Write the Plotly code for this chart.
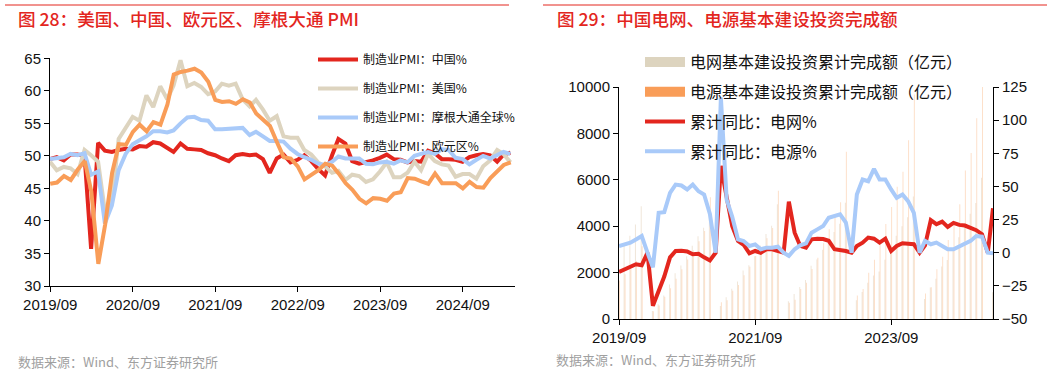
import pandas as pd
import plotly.graph_objects as go

# ---------------- Left panel: manufacturing PMI ----------------
pmi_dates = pd.date_range("2019-08-31", periods=68, freq=pd.offsets.MonthEnd())
ez_dates = pd.date_range("2019-09-01", periods=68, freq=pd.offsets.MonthBegin())

pmi_china = [49.5, 49.8, 49.3, 50.2, 50.2,
             50.0, 35.7, 52.0, 50.8, 50.6, 50.9, 51.1, 51.0, 51.5, 51.4, 52.1, 51.9,
             51.3, 50.6, 51.9, 51.1, 51.0, 50.9, 50.4, 50.1, 49.6, 49.2, 50.1, 50.3,
             50.1, 50.2, 49.5, 47.4, 49.6, 50.2, 49.0, 49.4, 50.1, 49.2, 48.0, 47.0,
             50.1, 52.6, 51.9, 49.2, 48.8, 49.0, 49.3, 49.7, 50.2, 49.5, 49.4, 49.0,
             49.2, 49.1, 50.8, 50.4, 49.5, 49.5, 49.4, 49.1, 49.8, 50.1, 50.3, 50.1,
             49.1, 50.2, 50.5]
pmi_us = [49.1, 47.8, 48.3, 48.1, 47.2,
          50.9, 50.1, 49.1, 41.5, 43.1, 52.6, 54.2, 56.0, 55.4, 59.3, 57.5, 60.7,
          58.7, 60.8, 64.7, 60.7, 61.2, 60.6, 59.5, 59.9, 61.1, 60.8, 61.1, 58.7,
          57.6, 58.6, 57.1, 55.4, 56.1, 53.0, 52.8, 52.8, 50.9, 50.2, 49.0, 48.4,
          47.4, 47.7, 46.3, 47.1, 46.9, 46.0, 46.4, 47.6, 49.0, 46.7, 46.7, 47.4,
          49.1, 47.8, 50.3, 49.2, 48.7, 48.5, 46.8, 47.2, 47.2, 46.5, 48.4, 49.3,
          50.9, 50.3, 49.0]
pmi_jpm = [49.5, 49.7, 49.8, 50.3, 50.1,
           50.4, 47.1, 47.6, 39.6, 42.4, 47.8, 50.3, 51.8, 52.4, 53.0, 53.8, 53.8,
           53.6, 53.9, 55.0, 55.9, 56.0, 55.5, 55.4, 54.1, 54.1, 54.2, 54.2, 54.3,
           53.2, 53.7, 53.0, 52.3, 52.3, 52.2, 51.1, 50.3, 49.8, 49.4, 48.8, 48.6,
           49.1, 49.9, 49.6, 49.6, 49.6, 48.8, 48.7, 49.0, 49.1, 48.8, 49.3, 49.0,
           50.0, 50.3, 50.6, 50.3, 51.0, 50.9, 49.7, 49.5, 48.7, 49.4, 50.0, 49.6,
           50.1, 50.6, 50.3]
pmi_ez = [45.7, 45.9, 46.9, 46.3,
          47.9, 49.2, 44.5, 33.4, 39.4, 47.4, 51.8, 51.7, 53.7, 54.8, 53.8, 55.2,
          54.8, 57.9, 62.5, 62.9, 63.1, 63.4, 62.8, 61.4, 58.6, 58.3, 58.4, 58.0,
          58.7, 58.2, 56.5, 55.5, 54.6, 52.1, 49.8, 49.6, 48.4, 46.4, 47.1, 47.8,
          48.8, 48.5, 47.3, 45.8, 44.8, 43.4, 42.7, 43.5, 43.4, 43.1, 44.2, 44.4,
          46.6, 46.5, 46.1, 45.7, 47.3, 45.8, 45.8, 45.8, 45.0, 46.0, 45.2, 45.1,
          46.6, 47.6, 48.6, 49.0]
left_ticks = ["2019-09-01", "2020-09-01", "2021-09-01", "2022-09-01", "2023-09-01", "2024-09-01"]

# ---------------- Right panel: grid / power investment ----------------
inv_dates = pd.date_range("2019-08-31", periods=67, freq=pd.offsets.MonthEnd())
grid_cum = [2700, 3190, 3590, 4070, 4856,
            None, 340, 640, 1010, 1490, 1970, 2310, 2700, 3160, 3570, 3930, 4699,
            None, 560, 940, 1300, 1620, 2090, 2320, 2710, 3170, 3660, 4020, 4951,
            None, 770, 1080, 1380, 1680, 2300, 2560, 2990, 3400, 3750, 4110, 5012,
            None, 810, 1160, 1560, 1880, 2050, 2550, 2970, 3590, 4000, 4390, 5275,
            None, 860, 1360, 1730, 2260, 2540, 3000, 3520, 4130, 4540, 5000, 6083,
            None, 1150]
power_cum = [1660, 1930, 2150, 2500, 3139,
             None, 330, 580, 960, 1330, 1740, 2140, 2560, 2960, 3350, 3790, 5244,
             None, 720, 810, 1220, 1470, 1890, 2250, 2720, 3060, 3480, 3920, 5530,
             None, 700, 830, 1290, 1560, 2160, 2640, 3270, 3870, 4460, 5030, 7208,
             None, 1010, 1290, 1990, 2550, 3320, 4100, 4830, 5700, 6350, 7700, 9675,
             None, 1100, 1370, 2140, 2680, 3400, 4200, 4950, 6400, 7150, 8650, 11687,
             None, 1090]
grid_yoy = [-14.5, -12.4, -10.4, -8.7, -9.4,
            0, -40.0, -28.0, -18.0, -3.5, 1.3, 1.5, 1.0, -1.2, -0.8, -3.5, -5.8,
            0, 65.5, 42.0, 20.0, 8.8, 6.0, -0.5, 1.3, 0, 2.6, 2.6, 1.3,
            0, 38.5, 15.1, 5.1, 3.8, 10.1, 10.6, 10.3, 9.0, 2.6, 2.1, 1.3,
            0, 5.1, 7.6, 11.4, 10.6, 7.6, 10.6, 1.3, 5.1, 7.1, 6.8, 6.4,
            0, 5.5, 24.5, 21.5, 23.5, 19.5, 22.5, 21.0, 20.5, 19.0, 17.0, 14.0,
            0, 33.5]
power_yoy = [5.0, 6.3, 7.6, 10.0, 12.6,
             0, -11.0, 30.1, 30.6, 45.1, 51.4, 50.7, 47.7, 51.4, 46.4, 43.9, 29.2,
             0, 117.0, 40.0, 27.0, 10.0, 8.8, 5.1, 6.3, 2.6, 3.8, 3.8, 4.5,
             0, -2.4, 2.6, 5.5, 7.0, 15.1, 17.6, 20.1, 26.4, 28.0, 28.9, 22.8,
             0, 43.9, 55.2, 53.9, 63.2, 55.2, 55.2, 47.7, 41.4, 43.9, 38.9, 30.1,
             0, 8.9, 6.4, 7.6, 5.0, 2.6, 2.6, 4.5, 6.4, 8.9, 12.6, 12.1,
             0, -0.5]
right_ticks = ["2019-09-01", "2021-09-01", "2023-09-01"]

# ---------------- styles ----------------
RED = "#e3261e"
BEIGE = "#ddd4bf"
BLUE = "#a9caf9"
ORANGE = "#f99d58"
FONT = "Liberation Sans, Arial, Noto Sans CJK SC"
CJK = "Noto Sans CJK SC, Liberation Sans"
W, H = 1060, 384
DAY_MS = 86400000
BAR_W = 5.4 * DAY_MS

def px(x):
    return x / W

def py(y):
    return 1 - y / H

fig = go.Figure()

line_specs = [
    (pmi_dates, pmi_china, RED, "制造业PMI：中国%"),
    (pmi_dates, pmi_us, BEIGE, "制造业PMI：美国%"),
    (pmi_dates, pmi_jpm, BLUE, "制造业PMI：摩根大通全球%"),
    (ez_dates, pmi_ez, ORANGE, "制造业PMI：欧元区%"),
]
for i, (xs, ys, col, name) in enumerate(line_specs):
    fig.add_trace(go.Scatter(x=xs, y=ys, mode="lines", name=name,
                             line=dict(color=col, width=4),
                             xaxis="x", yaxis="y", legend="legend",
                             legendgroup="L%d" % i))

# bars (thin, faint) for cumulative investment
fig.add_trace(go.Bar(x=inv_dates, y=grid_cum, width=BAR_W, offset=-BAR_W,
                     marker=dict(color="rgba(221,200,170,0.45)", line=dict(width=0)),
                     xaxis="x2", yaxis="y2", showlegend=False,
                     name="电网基本建设投资累计完成额（亿元）"))
fig.add_trace(go.Bar(x=inv_dates, y=power_cum, width=BAR_W, offset=0,
                     marker=dict(color="rgba(249,160,90,0.32)", line=dict(width=0)),
                     xaxis="x2", yaxis="y2", showlegend=False,
                     name="电源基本建设投资累计完成额（亿元）"))
# legend swatches for the bars
fig.add_trace(go.Scatter(x=[None], y=[None], mode="lines",
                         line=dict(color=BEIGE, width=11),
                         name="电网基本建设投资累计完成额（亿元）",
                         xaxis="x2", yaxis="y2", legend="legend2", legendgroup="R0"))
fig.add_trace(go.Scatter(x=[None], y=[None], mode="lines",
                         line=dict(color=ORANGE, width=11),
                         name="电源基本建设投资累计完成额（亿元）",
                         xaxis="x2", yaxis="y2", legend="legend2", legendgroup="R1"))
fig.add_trace(go.Scatter(x=inv_dates, y=grid_yoy, mode="lines", name="累计同比：电网%",
                         line=dict(color=RED, width=4),
                         xaxis="x2", yaxis="y3", legend="legend2", legendgroup="R2"))
fig.add_trace(go.Scatter(x=inv_dates, y=power_yoy, mode="lines", name="累计同比：电源%",
                         line=dict(color=BLUE, width=4),
                         xaxis="x2", yaxis="y3", legend="legend2", legendgroup="R3"))

axis_common = dict(showline=True, linecolor="#000", linewidth=1, ticks="outside",
                   ticklen=5, tickcolor="#000", tickwidth=1, showgrid=False,
                   zeroline=False, automargin=False,
                   tickfont=dict(family=FONT, size=15, color="#111"))

fig.update_layout(
    width=W, height=H, margin=dict(l=0, r=0, t=0, b=0, pad=0, autoexpand=False),
    paper_bgcolor="white", plot_bgcolor="white",
    barmode="overlay", showlegend=True,
    xaxis=dict(domain=[px(50), px(515)], anchor="y", type="date",
               range=["2019-08-31", "2025-04-20"], tickvals=left_ticks,
               tickformat="%Y/%m", **axis_common),
    yaxis=dict(domain=[py(286), py(58.3)], anchor="x", range=[30, 65], dtick=5,
               tick0=30, **axis_common),
    xaxis2=dict(domain=[px(619), px(993)], anchor="y2", type="date",
                range=["2019-08-31", "2025-02-28"], tickvals=right_ticks,
                tickformat="%Y/%m", **axis_common),
    yaxis2=dict(domain=[py(319), py(87)], anchor="x2", range=[0, 10000], dtick=2000,
                tickformat="d", **axis_common),
    yaxis3=dict(overlaying="y2", anchor="x2", side="right", range=[-50, 125], dtick=25,
                tick0=-50, **axis_common),
    legend=dict(x=px(313), y=py(45), xanchor="left", yanchor="top",
                bgcolor="rgba(0,0,0,0)", font=dict(family=CJK, size=12, color="#111"),
                tracegroupgap=10, itemwidth=40),
    legend2=dict(x=px(640), y=py(45), xanchor="left", yanchor="top",
                 bgcolor="rgba(0,0,0,0)", font=dict(family=CJK, size=16, color="#111"),
                 tracegroupgap=6, itemwidth=40),
)

# titles, separators, source notes
fig.add_shape(type="line", xref="paper", yref="paper", x0=px(5), x1=px(509),
              y0=py(5), y1=py(5), line=dict(color=RED, width=1))
fig.add_shape(type="line", xref="paper", yref="paper", x0=px(543), x1=px(1047),
              y0=py(5), y1=py(5), line=dict(color=RED, width=1))
fig.add_annotation(text="图 28：美国、中国、欧元区、摩根大通 PMI", xref="paper", yref="paper",
                   x=px(16), y=py(18), xanchor="left", yanchor="middle", showarrow=False,
                   font=dict(family=CJK, size=17.6, color=RED, weight=500))
fig.add_annotation(text="图 29：中国电网、电源基本建设投资完成额", xref="paper", yref="paper",
                   x=px(555), y=py(18), xanchor="left", yanchor="middle", showarrow=False,
                   font=dict(family=CJK, size=17.6, color=RED, weight=500))
fig.add_annotation(text="数据来源：Wind、东方证券研究所", xref="paper", yref="paper",
                   x=px(16), y=py(361), xanchor="left", yanchor="middle", showarrow=False,
                   font=dict(family=CJK, size=13, color="#a0a0a0"))
fig.add_annotation(text="数据来源：Wind、东方证券研究所", xref="paper", yref="paper",
                   x=px(554), y=py(359), xanchor="left", yanchor="middle", showarrow=False,
                   font=dict(family=CJK, size=13, color="#a0a0a0"))

fig.write_html("out.html", config={"displayModeBar": False},
               post_script="document.body.style.margin='0';document.body.style.padding='0';")
